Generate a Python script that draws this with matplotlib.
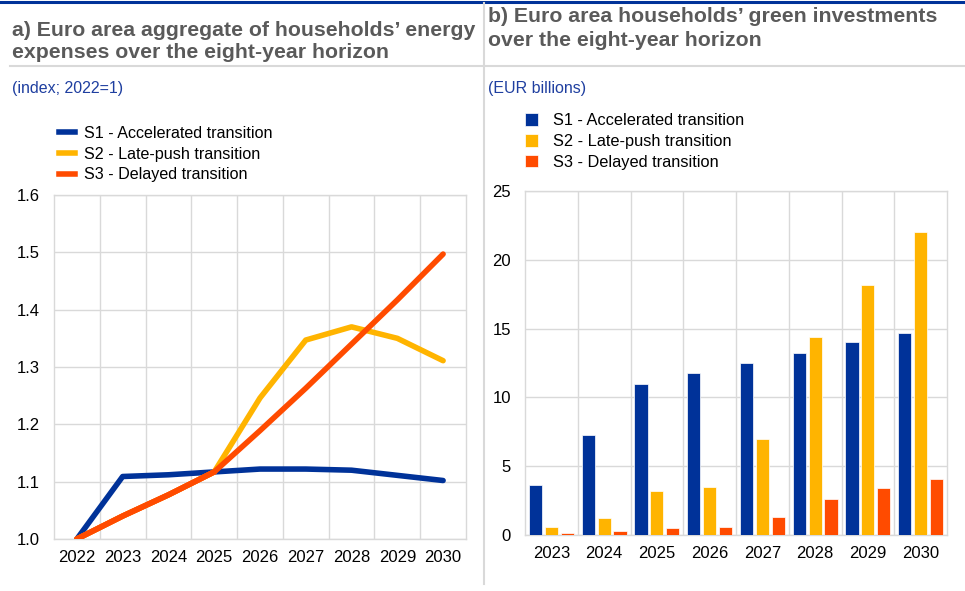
import numpy as np
import matplotlib.pyplot as plt
from matplotlib.lines import Line2D

plt.rcParams['font.family'] = ['Liberation Sans', 'DejaVu Sans']

# panel a: energy expenses index (2022=1)
years_a = ['2022', '2023', '2024', '2025', '2026', '2027', '2028', '2029', '2030']
s1_energy = [1.0, 1.109, 1.112, 1.117, 1.122, 1.122, 1.120, 1.111, 1.102]
s2_energy = [1.0, 1.040, 1.077, 1.117, 1.246, 1.347, 1.370, 1.350, 1.311]
s3_energy = [1.0, 1.040, 1.077, 1.117, 1.189, 1.263, 1.340, 1.417, 1.497]

# panel b: green investments, EUR billions
years_b = ['2023', '2024', '2025', '2026', '2027', '2028', '2029', '2030']
s1_invest = [3.6, 7.3, 11.0, 11.8, 12.5, 13.2, 14.0, 14.7]
s2_invest = [0.6, 1.2, 3.2, 3.5, 7.0, 14.4, 18.2, 22.0]
s3_invest = [0.15, 0.27, 0.5, 0.6, 1.3, 2.6, 3.4, 4.1]

labels = ['S1 - Accelerated transition', 'S2 - Late-push transition',
          'S3 - Delayed transition']
colors = ['#003299', '#FFB400', '#FF4B00']
grid_col = '#d9d9d9'
title_col = '#5a5a5a'
sub_col = '#1f3fa0'

fig = plt.figure(figsize=(9.65, 5.91), dpi=100)
W, H = 965, 591


def box(l, t, r, b):
    return [l / W, 1 - b / H, (r - l) / W, (b - t) / H]


# header decorations
fig.add_artist(Line2D([0, 1], [1 - 1.5 / H] * 2, color='#003299', lw=2.2))
fig.add_artist(Line2D([10 / W, 1], [1 - 66 / H] * 2, color=grid_col, lw=1.5))
fig.add_artist(Line2D([484 / W] * 2, [1 - 3 / H, 1 - 584 / H], color=grid_col, lw=1.5))

tkw = dict(fontsize=15.3, fontweight='bold', color=title_col, va='center')
fig.text(12 / W, 1 - 30 / H, 'a) Euro area aggregate of households\u2019 energy', **tkw)
fig.text(12 / W, 1 - 53 / H, 'expenses over the eight-year horizon', **tkw)
fig.text(488 / W, 1 - 17 / H, 'b) Euro area households\u2019 green investments', **tkw)
fig.text(488 / W, 1 - 41 / H, 'over the eight-year horizon', **tkw)
fig.text(12 / W, 1 - 88 / H, '(index; 2022=1)', fontsize=11.5, color=sub_col, va='center')
fig.text(488 / W, 1 - 88 / H, '(EUR billions)', fontsize=11.5, color=sub_col, va='center')

# panel a
ax1 = fig.add_axes(box(54, 195, 466, 539))
xa = np.arange(len(years_a))
for vals, c, lab in zip([s1_energy, s2_energy, s3_energy], colors, labels):
    ax1.plot(xa, vals, color=c, lw=4, label=lab, solid_capstyle='round', zorder=3)
# the orange line is drawn on top of yellow where they overlap
ax1.plot(xa[:4], s3_energy[:4], color=colors[2], lw=4, solid_capstyle='round', zorder=4)
ax1.set_xlim(-0.5, len(years_a) - 0.5)
ax1.set_ylim(1.0, 1.6)
ax1.set_yticks(np.arange(1.0, 1.61, 0.1))
ax1.set_yticklabels([f'{v:.1f}' for v in np.arange(1.0, 1.61, 0.1)])
ax1.set_xticks(xa)
ax1.set_xticklabels(years_a)
ax1.set_xticks(np.arange(0.5, len(years_a) - 0.5), minor=True)
ax1.grid(True, which='minor', axis='x', color=grid_col, lw=1)
ax1.grid(True, which='major', axis='y', color=grid_col, lw=1)
ax1.legend(handles=[Line2D([], [], color=c, lw=4) for c in colors], labels=labels,
           loc='upper left', bbox_to_anchor=(51 / W, 1 - 118 / H),
           bbox_transform=fig.transFigure, frameon=False, fontsize=11.6,
           handlelength=1.0, handletextpad=0.55, labelspacing=0.35, borderpad=0)

# panel b
ax2 = fig.add_axes(box(525, 191, 947, 535))
xb = np.arange(len(years_b))
width = 0.25
step = 0.30
for i, (vals, c, lab) in enumerate(zip([s1_invest, s2_invest, s3_invest], colors, labels)):
    ax2.bar(xb + (i - 1) * step, vals, width=width, color=c, label=lab, zorder=3,
            edgecolor='white', linewidth=0.5)
ax2.set_xlim(-0.5, len(years_b) - 0.5)
ax2.set_ylim(0, 25)
ax2.set_yticks(range(0, 26, 5))
ax2.set_xticks(xb)
ax2.set_xticklabels(years_b)
ax2.set_xticks(np.arange(0.5, len(years_b) - 0.5), minor=True)
ax2.grid(True, which='minor', axis='x', color=grid_col, lw=1)
ax2.grid(True, which='major', axis='y', color=grid_col, lw=1)
ax2.legend(loc='upper left', bbox_to_anchor=(517 / W, 1 - 105 / H),
           bbox_transform=fig.transFigure, frameon=False, fontsize=11.8,
           handlelength=0.8, handleheight=0.8, handletextpad=0.9,
           labelspacing=0.35, borderpad=0)

for ax in (ax1, ax2):
    ax.set_axisbelow(True)
    for sp in ax.spines.values():
        sp.set_color(grid_col)
        sp.set_linewidth(1)
    ax.tick_params(which='both', length=0, labelsize=12, colors='black')
    ax.tick_params(axis='y', pad=10)
    ax.tick_params(axis='x', pad=8)

fig.savefig('out.png', dpi=100)
